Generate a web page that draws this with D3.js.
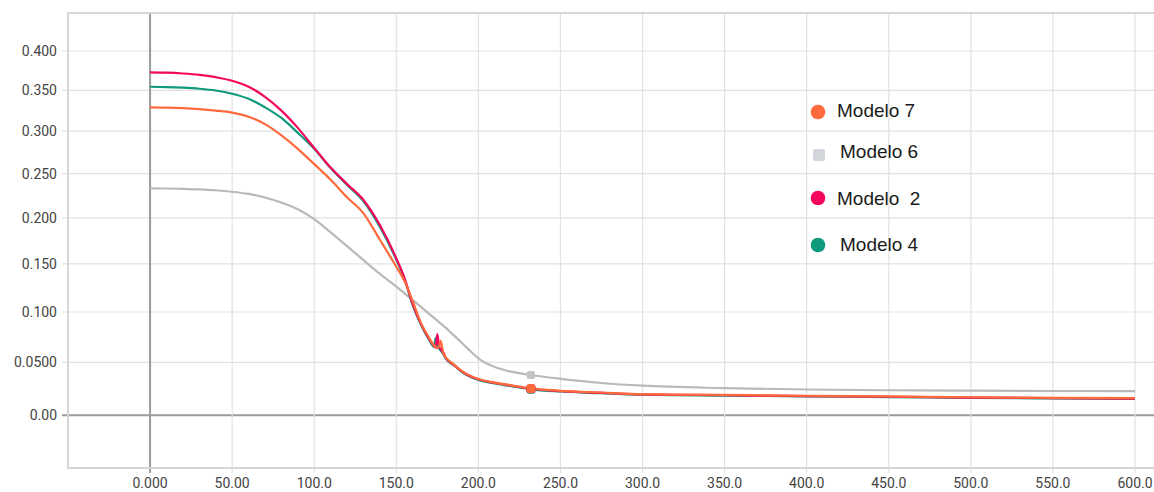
<!DOCTYPE html>
<html>
<head>
<meta charset="utf-8">
<script src="https://cdn.jsdelivr.net/npm/d3@7"></script>
<style>
  html, body { margin: 0; padding: 0; background: #fff; }
  svg { display: block; }
  .tick-label { font-family: Roboto, "Liberation Sans", Arial, sans-serif; font-size: 14px; fill: #444; }
  .legend-label { font-family: "Liberation Sans", Arial, sans-serif; font-size: 19px; fill: #1a1a1a; white-space: pre; }
</style>
</head>
<body>
<svg id="chart" width="1154" height="492"></svg>
<script>
// Training steps shared by every run
const steps = [0,10,20,30,40,50,60,70,80,90,100,110,120,130,140,150,155,160,165,170,
               173,174,175,176,177,178,179,180,185,190,195,200,210,220,232,250,275,300,
               350,400,450,500,550,600];

// Loss per run
const modelo7 = [0.3290,0.3287,0.3280,0.3268,0.3250,0.3225,0.3175,0.3085,0.2950,0.2790,
                 0.2610,0.2430,0.2230,0.2050,0.1760,0.1470,0.1320,0.1110,0.0890,0.0740,
                 0.0665,0.0650,0.0640,0.0655,0.0711,0.0640,0.0575,0.0550,0.0480,0.0415,
                 0.0370,0.0340,0.0305,0.0280,0.0250,0.0228,0.0212,0.0197,
                 0.0189,0.0181,0.0175,0.0167,0.0162,0.0158];
const modelo6 = [0.2331,0.2330,0.2326,0.2320,0.2310,0.2293,0.2268,0.2228,0.2170,0.2095,
                 0.1985,0.1840,0.1690,0.1540,0.1395,0.1262,0.1192,0.1122,0.1052,0.0982,
                 0.0940,0.0926,0.0912,0.0898,0.0884,0.0870,0.0856,0.0842,0.0765,0.0690,
                 0.0612,0.0540,0.0455,0.0410,0.0378,0.0342,0.0302,0.0276,
                 0.0253,0.0240,0.0233,0.0229,0.0226,0.0224];
const modelo2 = [0.3726,0.3722,0.3712,0.3695,0.3665,0.3620,0.3545,0.3420,0.3250,0.3040,
                 0.2800,0.2570,0.2380,0.2200,0.1920,0.1560,0.1350,0.1080,0.0880,0.0730,
                 0.0660,0.0645,0.0777,0.0660,0.0630,0.0605,0.0585,0.0547,0.0477,0.0412,
                 0.0367,0.0337,0.0302,0.0277,0.0247,0.0225,0.0209,0.0194,
                 0.0186,0.0178,0.0172,0.0164,0.0159,0.0155];
const modelo4 = [0.3545,0.3541,0.3533,0.3520,0.3498,0.3458,0.3395,0.3290,0.3160,0.2980,
                 0.2790,0.2565,0.2370,0.2185,0.1900,0.1545,0.1340,0.1070,0.0870,0.0720,
                 0.0650,0.0740,0.0660,0.0640,0.0615,0.0595,0.0570,0.0540,0.0472,0.0407,
                 0.0362,0.0332,0.0297,0.0272,0.0242,0.0221,0.0205,0.0191,
                 0.0183,0.0175,0.0169,0.0161,0.0156,0.0152];

const xTicks = [0,50,100,150,200,250,300,350,400,450,500,550,600];
const yTicks = [0,0.05,0.1,0.15,0.2,0.25,0.3,0.35,0.4];

const legendNames = ["Modelo 7", "Modelo 6", "Modelo  2", "Modelo 4"];
const legendColors = ["#ff6a3d", "#d2d5d9", "#f5075e", "#0f9a7c"];

const hoverStep = 232;

// ---- drawing ----
const W = 1154, H = 492;
const svg = d3.select("#chart");

const x = d3.scaleLinear().domain([-50, 600]).range([68, 1135]);
const y = d3.scaleSymlog().constant(1).domain([-0.05, 0.45]).range([468, 13]);

const plotLeft = x(-50), plotRight = W + 5, plotTop = y(0.45), plotBottom = y(-0.05);

// grid
const grid = svg.append("g");
grid.selectAll("line.h").data(yTicks).join("line")
  .attr("x1", plotLeft - 6).attr("x2", plotRight)
  .attr("y1", d => y(d)).attr("y2", d => y(d))
  .attr("stroke", d => d === 0 ? "#9a9a9a" : "#e2e2e2")
  .attr("stroke-width", d => d === 0 ? 2 : 1.2);
grid.selectAll("line.v").data(xTicks).join("line")
  .attr("x1", d => x(d)).attr("x2", d => x(d))
  .attr("y1", plotTop).attr("y2", plotBottom + 5)
  .attr("stroke", d => d === 0 ? "#9a9a9a" : "#e2e2e2")
  .attr("stroke-width", d => d === 0 ? 2 : 1.2);

// frame
svg.append("path")
  .attr("d", `M${plotRight},${plotTop}H${plotLeft}V${plotBottom}H${plotRight}`)
  .attr("fill", "none").attr("stroke", "#d6d6d6").attr("stroke-width", 2);

// tick labels
const fy = d3.format(".3r"), fx = d3.format(".4r");
svg.append("g").selectAll("text").data(yTicks).join("text")
  .attr("class", "tick-label")
  .attr("x", 57).attr("y", d => y(d) + 5)
  .attr("text-anchor", "end")
  .text(d => fy(d));
svg.append("g").selectAll("text").data(xTicks).join("text")
  .attr("class", "tick-label")
  .attr("x", d => x(d)).attr("y", 488)
  .attr("text-anchor", "middle")
  .text(d => fx(d));

// series
const runs = [
  { name: "Modelo 6", values: modelo6, color: "#b9b9b9" },
  { name: "Modelo 4", values: modelo4, color: "#0f9a7c" },
  { name: "Modelo 2", values: modelo2, color: "#f5075e" },
  { name: "Modelo 7", values: modelo7, color: "#ff6a3d" }
];

const line = d3.line()
  .x(d => x(d[0]))
  .y(d => y(d[1]))
  .curve(d3.curveMonotoneX);

svg.append("g").selectAll("path").data(runs).join("path")
  .attr("d", r => line(steps.map((s, i) => [s, r.values[i]])))
  .attr("fill", "none")
  .attr("stroke", r => r.color)
  .attr("stroke-width", 2.2)
  .attr("stroke-linejoin", "round");

// hover markers
const hi = steps.indexOf(hoverStep);
const markers = svg.append("g");
runs.forEach(r => {
  const cx = x(hoverStep), cy = y(r.values[hi]);
  if (r.name === "Modelo 6") {
    markers.append("rect").attr("x", cx - 4).attr("y", cy - 4)
      .attr("width", 8).attr("height", 8).attr("rx", 1.5)
      .attr("fill", "#c4c4c4");
  } else {
    markers.append("rect").attr("x", cx - 4.5).attr("y", cy - 4.5)
      .attr("width", 9).attr("height", 9).attr("rx", 3)
      .attr("fill", r.color);
  }
});

// legend
const legendY = [112, 155, 198, 245];
const legendTextX = [837, 840, 837, 840];
const legendTextY = [117, 158, 205, 251];
const lg = svg.append("g");
legendNames.forEach((n, i) => {
  if (i === 1) {
    lg.append("rect").attr("x", 813).attr("y", legendY[i] - 6)
      .attr("width", 12).attr("height", 12).attr("rx", 2)
      .attr("fill", legendColors[i]);
  } else {
    lg.append("circle").attr("cx", 818).attr("cy", legendY[i]).attr("r", 7.3)
      .attr("fill", legendColors[i]);
  }
  lg.append("text").attr("class", "legend-label")
    .attr("x", legendTextX[i]).attr("y", legendTextY[i])
    .attr("xml:space", "preserve")
    .text(n);
});
</script>
</body>
</html>
